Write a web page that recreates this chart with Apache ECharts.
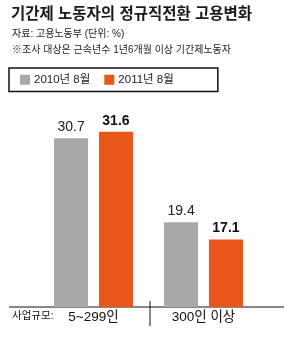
<!DOCTYPE html>
<html>
<head>
<meta charset="utf-8">
<script src="https://cdn.jsdelivr.net/npm/echarts@6/dist/echarts.min.js"></script>
<style>
  html, body { margin: 0; padding: 0; background: #fff; }
  #chart { width: 289px; height: 337px; }
</style>
</head>
<body>
<div id="chart"></div>
<script>
// data
var categories = ['5~299인', '300인 이상'];
var seriesNames = ['2010년 8월', '2011년 8월'];
var values2010 = [30.7, 19.4];
var values2011 = [31.6, 17.1];

var font = "'Liberation Sans', 'Noto Sans CJK KR', sans-serif";
var gray = '#a7a9a8';
var orange = '#e8561a';

var myChart = echarts.init(document.getElementById('chart'));
var option = {
    backgroundColor: '#fff',
    animation: false,
    title: [
        {
            text: '기간제 노동자의 정규직전환 고용변화',
            left: 11, top: 7, padding: 0,
            textStyle: { fontFamily: font, fontSize: 15.5, fontWeight: 'bold', color: '#1a1a1a' }
        },
        {
            text: '자료: 고용노동부 (단위: %)',
            left: 12, top: 29, padding: 0,
            textStyle: { fontFamily: font, fontSize: 10, fontWeight: 'normal', color: '#222' }
        },
        {
            text: '※조사 대상은 근속년수 1년6개월 이상 기간제노동자',
            left: 12, top: 45, padding: 0,
            textStyle: { fontFamily: font, fontSize: 10, fontWeight: 'normal', color: '#222' }
        }
    ],
    legend: {
        left: 9, top: 68,
        padding: [6, 44, 6, 11],
        borderColor: '#111', borderWidth: 1.5, borderRadius: 0,
        icon: 'rect', itemWidth: 10, itemHeight: 10, itemGap: 14,
        textStyle: { fontFamily: font, fontSize: 11.5, color: '#222', padding: [0, 0, 0, -1] },
        data: seriesNames
    },
    grid: { left: 38.5, right: 30.5, top: 128.7, bottom: 30 },
    xAxis: {
        type: 'category',
        data: categories,
        axisLine: { show: false },
        axisTick: { show: false },
        axisLabel: { fontFamily: font, fontSize: 13.5, color: '#111', margin: 4 }
    },
    yAxis: { type: 'value', min: 8, max: 32, show: false },
    graphic: [
        { type: 'line', shape: { x1: 9, y1: 307, x2: 284, y2: 307 }, style: { stroke: '#111', lineWidth: 1 } },
        { type: 'line', shape: { x1: 150, y1: 301, x2: 150, y2: 326 }, style: { stroke: '#111', lineWidth: 1 } },
        { type: 'text', left: 12, top: 311, style: { text: '사업규모:', font: '10.5px ' + font, fill: '#111' } }
    ],
    series: [
        {
            name: seriesNames[0], type: 'bar', data: values2010,
            barWidth: 34, barGap: '32%',
            itemStyle: { color: gray },
            label: { show: true, position: 'top', distance: 4, fontFamily: font, fontSize: 14, color: '#222' }
        },
        {
            name: seriesNames[1], type: 'bar', data: values2011,
            barWidth: 34,
            itemStyle: { color: orange },
            label: { show: true, position: 'top', distance: 4, fontFamily: font, fontSize: 14, fontWeight: 'bold', color: '#111' }
        }
    ]
};
myChart.setOption(option);
</script>
</body>
</html>
